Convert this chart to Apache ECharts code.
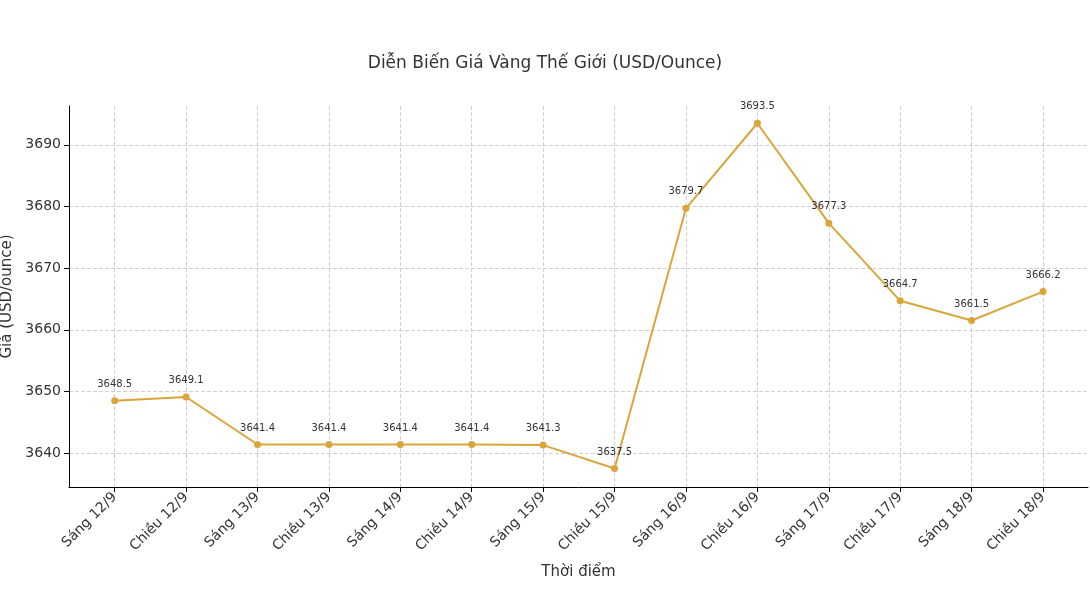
<!DOCTYPE html>
<html><head><meta charset="utf-8">
<script src="https://cdn.jsdelivr.net/npm/echarts@6/dist/echarts.min.js"></script>
<style>html,body{margin:0;padding:0;background:#fff}#c{width:1090px;height:600px}</style>
</head><body><div id="c"></div>
<script>
const categories = ['Sáng 12/9','Chiều 12/9','Sáng 13/9','Chiều 13/9','Sáng 14/9','Chiều 14/9','Sáng 15/9','Chiều 15/9','Sáng 16/9','Chiều 16/9','Sáng 17/9','Chiều 17/9','Sáng 18/9','Chiều 18/9'];
const prices = [3648.5,3649.1,3641.4,3641.4,3641.4,3641.4,3641.3,3637.5,3679.7,3693.5,3677.3,3664.7,3661.5,3666.2];
const yTicks = [3640,3650,3660,3670,3680,3690];
const xTicks = categories.map((c,i)=>i);
const font = 'DejaVu Sans';
const chart = echarts.init(document.getElementById('c'));
chart.setOption({
  animation:false,
  textStyle:{fontFamily:font},
  title:{text:'Diễn Biến Giá Vàng Thế Giới (USD/Ounce)',left:'center',top:50,textStyle:{fontFamily:font,fontSize:17,fontWeight:'normal',color:'#333'}},
  grid:{left:69,right:2,top:106,bottom:113,containLabel:false,outerBoundsMode:'none'},
  xAxis:{type:'value',min:-0.64,max:13.63,
    name:'Thời điểm',nameLocation:'middle',nameGap:78,nameTextStyle:{fontSize:15,color:'#333'},
    axisLine:{onZero:false,lineStyle:{color:'#000',width:1}},
    axisTick:{customValues:xTicks,length:5,lineStyle:{color:'#000'}},
    axisLabel:{customValues:xTicks,rotate:45,fontSize:14,color:'#333',margin:8,formatter:v=>categories[Math.round(v)]},
    splitLine:{show:true,lineStyle:{type:'dashed',color:'#d0d0d0'}}},
  yAxis:{type:'value',min:3634.5,max:3696.3,
    name:'Giá (USD/ounce)',nameLocation:'middle',nameGap:52,nameTextStyle:{fontSize:15,color:'#333'},
    axisLine:{show:true,onZero:false,lineStyle:{color:'#000',width:1}},
    axisTick:{show:true,customValues:yTicks,length:5,lineStyle:{color:'#000'}},
    axisLabel:{customValues:yTicks,fontSize:14,color:'#333',margin:8,formatter:v=>String(v)},
    splitLine:{show:true,lineStyle:{type:'dashed',color:'#d0d0d0'}}},
  series:[{type:'line',data:prices.map((p,i)=>[i,p]),
    symbol:'circle',symbolSize:7,
    itemStyle:{color:'#DAA53A'},lineStyle:{color:'#DAA53A',width:2},
    label:{show:true,position:'top',distance:8,fontSize:10,color:'#333',formatter:p=>p.value[1].toFixed(1)}}]
});
</script></body></html>
